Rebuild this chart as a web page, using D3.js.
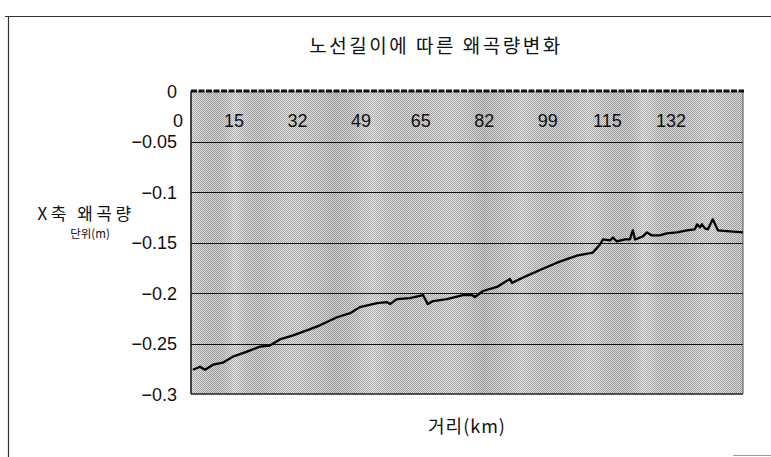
<!DOCTYPE html>
<html><head><meta charset="utf-8">
<script src="https://cdn.jsdelivr.net/npm/d3@7"></script>
<style>
html,body{margin:0;padding:0;background:#fff;}
svg{display:block;}
.num{font-family:"Liberation Sans",Arial,sans-serif;}
.kr{font-family:"Noto Sans CJK KR","Noto Sans",sans-serif;}
</style></head>
<body>
<svg id="c" width="771" height="457"></svg>
<script>
// ---- data ----
const distanceKm = [4.0,5.9,7.2,9.4,12.0,14.7,18.5,22.0,24.6,27.3,30.8,34.5,38.0,42.6,46.1,48.7,53.3,56.0,56.8,58.6,62.1,65.6,66.9,68.3,72.0,76.3,78.7,79.5,81.7,85.4,88.9,89.4,93.4,97.7,101.5,106.8,111.1,113.0,113.8,115.7,116.5,117.5,119.7,121.0,121.8,122.4,124.5,125.6,126.9,129.0,130.9,133.6,136.3,138.4,139.0,139.8,140.3,141.1,141.9,143.2,144.6,147.8,151.3];
const distortionX = [-0.276,-0.273,-0.276,-0.271,-0.269,-0.263,-0.258,-0.253,-0.252,-0.246,-0.242,-0.237,-0.232,-0.224,-0.220,-0.214,-0.210,-0.209,-0.211,-0.206,-0.205,-0.202,-0.211,-0.208,-0.206,-0.202,-0.202,-0.204,-0.198,-0.194,-0.186,-0.190,-0.183,-0.176,-0.170,-0.163,-0.160,-0.152,-0.147,-0.148,-0.145,-0.149,-0.147,-0.147,-0.138,-0.147,-0.144,-0.140,-0.143,-0.143,-0.141,-0.140,-0.138,-0.137,-0.132,-0.135,-0.132,-0.136,-0.137,-0.127,-0.138,-0.139,-0.140];
const xTickLabels = [0,15,32,49,65,82,99,115,132];
const yTicks = [0,-0.05,-0.1,-0.15,-0.2,-0.25,-0.3];
const titleText = "노선길이에 따른 왜곡량변화";
const yTitle = "X축 왜곡량";
const yUnit = "단위(m)";
const xTitle = "거리(km)";

const svg = d3.select("#c");
const plot = {l:191, r:743, t:91, b:394};
const x = d3.scaleLinear().domain([0, 151.3]).range([178, plot.r]);
const y = d3.scaleLinear().domain([-0.3, 0]).range([plot.b, plot.t]);

// page frame
svg.append("line").attr("x1",5).attr("x2",771).attr("y1",16.5).attr("y2",16.5).attr("stroke","#333").attr("stroke-width",1.2);
svg.append("line").attr("x1",8.5).attr("x2",8.5).attr("y1",16).attr("y2",457).attr("stroke","#333").attr("stroke-width",1.2);
svg.append("line").attr("x1",733).attr("x2",771).attr("y1",455.5).attr("y2",455.5).attr("stroke","#999").attr("stroke-width",1);

// halftone background
const defs = svg.append("defs");
const pat = defs.append("pattern").attr("id","ht").attr("width",2).attr("height",2).attr("patternUnits","userSpaceOnUse");
pat.append("rect").attr("width",2).attr("height",2).attr("fill","#e4e4e4");
pat.append("rect").attr("x",0).attr("y",0).attr("width",1).attr("height",1).attr("fill","#a2a2a2");
pat.append("rect").attr("x",1).attr("y",1).attr("width",1).attr("height",1).attr("fill","#a2a2a2");
const grad = defs.append("linearGradient").attr("id","mot").attr("x1","0").attr("x2","1").attr("y1","0").attr("y2","0");
const stops = [[0,"#fff",0.12],[0.04,"#000",0.06],[0.08,"#fff",0.15],[0.13,"#000",0.05],[0.18,"#fff",0.05],[0.26,"#000",0.08],[0.33,"#fff",0.12],[0.4,"#000",0.03],[0.47,"#fff",0.05],[0.53,"#000",0.08],[0.6,"#fff",0.1],[0.66,"#000",0.04],[0.72,"#fff",0.08],[0.78,"#000",0.06],[0.82,"#fff",0.15],[0.88,"#000",0.05],[0.94,"#fff",0.08],[1,"#000",0.05]];
stops.forEach(s=>grad.append("stop").attr("offset",s[0]).attr("stop-color",s[1]).attr("stop-opacity",s[2]));
svg.append("rect").attr("x",plot.l).attr("y",plot.t).attr("width",plot.r-plot.l).attr("height",plot.b-plot.t).attr("fill","url(#ht)");
svg.append("rect").attr("x",plot.l).attr("y",plot.t).attr("width",plot.r-plot.l).attr("height",plot.b-plot.t).attr("fill","url(#mot)");

// gridlines
svg.append("g").selectAll("line").data(yTicks.filter(v=>v<0 && v>-0.3)).join("line")
  .attr("x1",plot.l).attr("x2",plot.r).attr("y1",d=>Math.round(y(d))+0.5).attr("y2",d=>Math.round(y(d))+0.5)
  .attr("stroke","#111").attr("stroke-width",1.2);

// plot borders
svg.append("line").attr("x1",plot.l).attr("x2",plot.l).attr("y1",plot.t).attr("y2",plot.b).attr("stroke","#111").attr("stroke-width",1.5);
svg.append("line").attr("x1",plot.l).attr("x2",plot.r).attr("y1",plot.b).attr("y2",plot.b).attr("stroke","#222").attr("stroke-width",1.5);
svg.append("line").attr("x1",plot.r).attr("x2",plot.r).attr("y1",plot.t).attr("y2",plot.b).attr("stroke","#555").attr("stroke-width",1);
// x axis line at y=0 (dense tick pattern)
svg.append("line").attr("x1",plot.l).attr("x2",plot.r+1).attr("y1",y(0)).attr("y2",y(0))
  .attr("stroke","#111").attr("stroke-width",3).attr("stroke-dasharray","6,1.5");

// y axis labels
const yAxis = d3.axisLeft(y).tickValues(yTicks).tickSize(0).tickPadding(0)
  .tickFormat(d=> d===0 ? "0" : "\u2212"+String(-d));
const gy = svg.append("g").attr("transform",`translate(${177},0)`).call(yAxis);
gy.select(".domain").remove();
gy.selectAll("text").attr("class","num").attr("font-size",18).attr("fill","#111").attr("dy","0.35em");

// x axis labels (category-style labels drawn inside the plot)
svg.append("g").selectAll("text").data(xTickLabels).join("text")
  .attr("class","num").attr("x",d=>x(d)).attr("y",127).attr("text-anchor","middle")
  .attr("font-size",18).attr("fill","#111").text(d=>d);

// line
svg.append("path").datum(distanceKm.map((k,i)=>[k,distortionX[i]]))
  .attr("fill","none").attr("stroke","#000").attr("stroke-width",2.3).attr("stroke-linejoin","round")
  .attr("d", d3.line().x(d=>x(d[0])).y(d=>y(d[1])));

// titles
svg.append("text").attr("class","kr").attr("x",436).attr("y",53).attr("text-anchor","middle")
  .attr("font-size",19).attr("letter-spacing",2.5).attr("fill","#111").text(titleText);
svg.append("text").attr("class","kr").attr("x",86).attr("y",220).attr("text-anchor","middle")
  .attr("font-size",17).attr("letter-spacing",3.5).attr("fill","#111").text(yTitle);
svg.append("text").attr("class","kr").attr("x",90).attr("y",238).attr("text-anchor","middle")
  .attr("font-size",11.5).attr("fill","#111").text(yUnit);
svg.append("text").attr("class","kr").attr("x",467).attr("y",433).attr("text-anchor","middle")
  .attr("font-size",18).attr("letter-spacing",1).attr("fill","#111").text(xTitle);
</script>
</body></html>
